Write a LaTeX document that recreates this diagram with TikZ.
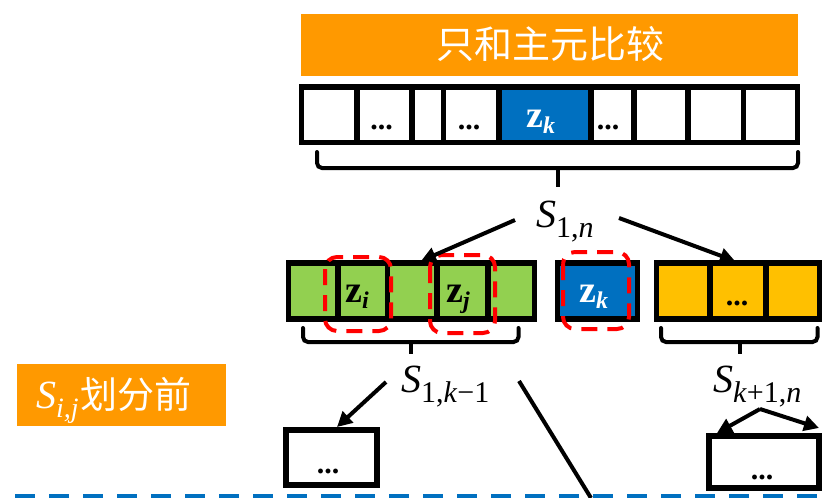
\RequirePackage{fix-cm}
\documentclass[tikz,border=0pt]{standalone}
\usepackage{fontspec}
\newfontfamily\cjk{Noto Sans CJK SC}
\newfontfamily\tms{Liberation Serif}
\usetikzlibrary{arrows.meta}
\definecolor{myorange}{HTML}{FF9900}
\definecolor{myblue}{HTML}{0070C0}
\definecolor{mygreen}{HTML}{92D050}
\definecolor{myyellow}{HTML}{FFC000}
\definecolor{myred}{HTML}{FF0000}
\newcommand\mycell[6]{\node[cellbox, fill=#6, minimum width={(#4-#2)*1pt}, minimum height={(#5-#3)*1pt}] (#1) at ({(#2+#4)/2},{(#3+#5)/2}) {};}
\newcommand\zsym[1]{{\tms\bfseries\fontsize{38}{38}\selectfont z\raisebox{-6pt}{\fontsize{24}{24}\selectfont\itshape #1}}}
\newcommand\ssym[1]{{\tms\fontsize{40}{40}\selectfont\itshape S\raisebox{-10pt}{\fontsize{30}{30}\selectfont\upshape #1}}}
\begin{document}
\begin{tikzpicture}[x=1pt,y=-1pt,
  cellbox/.style={inner sep=0pt, outer sep=0pt, draw=none},
  border/.style={draw=black, line width=5.5pt},
  boxline/.style={draw=black, line width=6pt},
  redbox/.style={draw=myred, line width=4pt, dash pattern=on 16pt off 10pt, rounded corners=12pt},
  bracepath/.style={line width=4pt, rounded corners=5pt, line cap=round},
  arr/.style={line width=4pt, -{Triangle[length=15pt,width=15pt]}},
  dots/.style={font=\tms\bfseries\fontsize{30}{30}\selectfont, inner sep=0pt, anchor=base},
  zlab/.style={inner sep=0pt, anchor=base west},
  slab/.style={inner sep=0pt, anchor=base west},
  banner/.style={fill=myorange, inner sep=0pt},
]
\useasboundingbox (0,0) rectangle (828,498);

% top banner
\node[banner, minimum width=497pt, minimum height=62pt] (banner) at (549.5,45) {};
\node[text=white, font=\cjk\fontsize{38}{38}\selectfont, inner sep=0pt] (bannertext) at (550,44) {只和主元比较};

% top array
\mycell{t1}{301.5}{86.75}{357}{142.25}{white}
\mycell{t2}{357}{86.75}{412}{142.25}{white}
\mycell{t3}{412}{86.75}{443.5}{142.25}{white}
\mycell{t4}{443.5}{86.75}{499}{142.25}{white}
\mycell{t5}{499}{86.75}{591}{142.25}{myblue}
\mycell{t6}{591}{86.75}{634}{142.25}{white}
\mycell{t7}{634}{86.75}{688}{142.25}{white}
\mycell{t8}{688}{86.75}{743.5}{142.25}{white}
\mycell{t9}{743.5}{86.75}{797.5}{142.25}{white}
\foreach \n in {t1,t2,t3,t4,t5,t6,t7,t8,t9}
  \draw[border] (\n.north west) rectangle (\n.south east);
\node[dots] (d1) at (381.5,129) {...};
\node[dots] (d2) at (469,129) {...};
\node[dots] (d3) at (608,129) {...};
\node[zlab, text=white] (zk1) at (526,127) {\zsym{k}};

% top brace
\draw[bracepath] (317,152) -- (317,168) -- (798,168) -- (798,152);
\draw[line width=4pt] (558,168) -- (558,187);
\node[slab] (S1n) at (536,227) {\ssym{1,\textit{n}}};

% green array
\mycell{g1}{288.5}{263}{338}{319}{mygreen}
\mycell{g2}{338}{263}{387.5}{319}{mygreen}
\mycell{g3}{387.5}{263}{437}{319}{mygreen}
\mycell{g4}{437}{263}{488}{319}{mygreen}
\mycell{g5}{488}{263}{534.5}{319}{mygreen}
% pivot
\mycell{b1}{557.5}{263}{637.5}{319}{myblue}
% yellow
\mycell{y1}{656.5}{263}{710}{319}{myyellow}
\mycell{y2}{710}{263}{766}{319}{myyellow}
\mycell{y3}{766}{263}{819.5}{319}{myyellow}
\foreach \n in {g1,g2,g3,g4,g5,b1,y1,y2,y3}
  \draw[border] (\n.north west) rectangle (\n.south east);
\node[zlab] (zi) at (345,302) {\zsym{i}};
\node[zlab] (zj) at (446,302) {\zsym{j}};
\node[zlab, text=white] (zk2) at (579,302) {\zsym{k}};
\node[dots] (d4) at (737,305) {...};

% red dashed outlines
\draw[redbox] (325,257) rectangle (391,331);
\draw[redbox] (430,255) rectangle (495,333);
\draw[redbox] (563,252) rectangle (629,329);

% arrows from S1n
\coordinate (a1s) at (515,220);
\coordinate (a1e) at (421,261);
\coordinate (a2s) at (619,218);
\coordinate (a2e) at (735,261);
\draw[arr] (a1s) -- (a1e);
\draw[arr] (a2s) -- (a2e);

% lower braces
\draw[bracepath] (303,328) -- (303,342) -- (518.5,342) -- (518.5,328);
\draw[line width=4pt] (411,342) -- (411,354);
\draw[bracepath] (661,328) -- (661,342) -- (817.5,342) -- (817.5,328);
\draw[line width=4pt] (740,342) -- (740,354);
\node[slab] (S1k) at (401,392) {\ssym{1,\textit{k}−1}};
\node[slab] (Sk1n) at (713,392) {\ssym{\textit{k}+1,\textit{n}}};

% left orange label
\node[banner, minimum width=209pt, minimum height=62pt] (lab) at (121.5,395) {};
\node[text=white, inner sep=0pt, anchor=base west] (labtext) at (36,408) {{\tms\fontsize{40}{40}\selectfont\itshape S\raisebox{-9pt}{\fontsize{28}{28}\selectfont i,j}\hspace{2pt}}{\cjk\fontsize{37}{37}\selectfont 划分前}};

% bottom boxes
\node[cellbox, minimum width=91pt, minimum height=55pt] (bl) at (331.5,457.5) {};
\draw[boxline] (bl.north west) rectangle (bl.south east);
\node[dots] (d5) at (328,473) {...};
\node[cellbox, minimum width=110pt, minimum height=52pt] (br) at (764,462) {};
\draw[boxline] (br.north west) rectangle (br.south east);
\node[dots] (d6) at (762,479) {...};

% arrows from lower labels
\coordinate (b1s) at (386,382);
\coordinate (b1e) at (337,427);
\draw[arr] (b1s) -- (b1e);
\coordinate (l1s) at (519,381);
\coordinate (l1e) at (591,498);
\draw[line width=4pt] (l1s) -- (l1e);
\coordinate (c0) at (760,409);
\coordinate (c1) at (717,433);
\coordinate (c2) at (819,428);
\draw[arr] (c0) -- (c1);
\draw[arr] (c0) -- (c2);

% dashed separator
\coordinate (ds) at (15,496);
\coordinate (de) at (828,496);
\draw[myblue, line width=4pt, dash pattern=on 20pt off 14pt] (ds) -- (de);
\end{tikzpicture}
\end{document}
